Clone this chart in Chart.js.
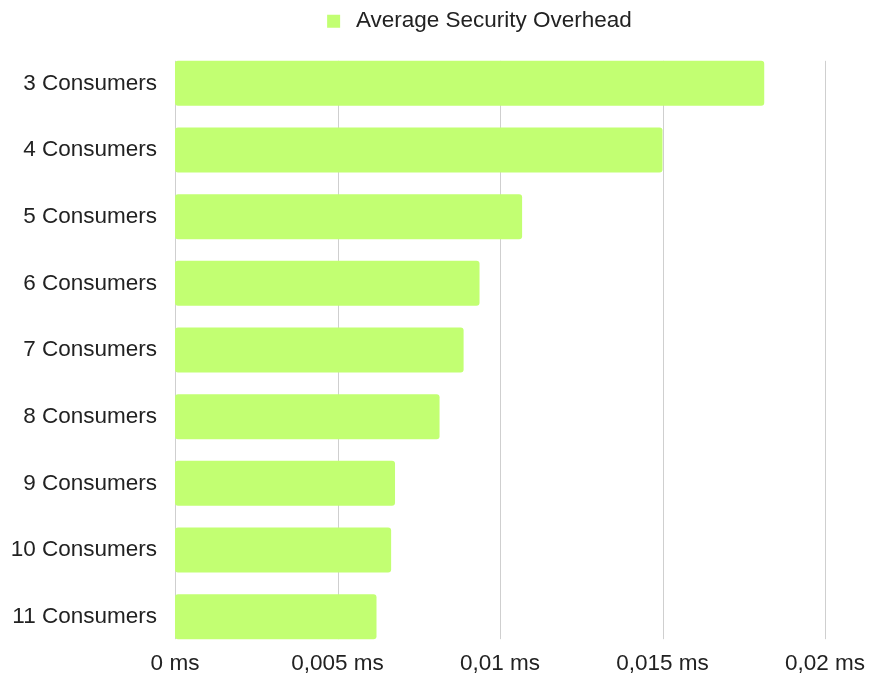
<!DOCTYPE html>
<html>
<head>
<meta charset="utf-8">
<script src="https://cdn.jsdelivr.net/npm/chart.js@4/dist/chart.umd.min.js"></script>
<style>
  html, body { margin: 0; padding: 0; background: #ffffff; }
  #wrap { width: 869px; height: 679px; position: relative; }
</style>
</head>
<body>
<div id="wrap"><canvas id="chart"></canvas></div>
<script>
// Average security overhead per consumer count (milliseconds)
const categories = [
  '3 Consumers', '4 Consumers', '5 Consumers', '6 Consumers', '7 Consumers',
  '8 Consumers', '9 Consumers', '10 Consumers', '11 Consumers'
];
const overheadMs = [0.01813, 0.0150, 0.01068, 0.00937, 0.00888, 0.00814, 0.00677, 0.00665, 0.00620];
const xTickLabels = ['0 ms', '0,005 ms', '0,01 ms', '0,015 ms', '0,02 ms'];
const seriesName = 'Average Security Overhead';

const FONT = "'Liberation Sans', Arial, sans-serif";
const FONT_SIZE = 22.5;
const BAR_COLOR = '#c2ff72';
const GRID_COLOR = '#cfcfcf';
const TEXT_COLOR = '#222222';

// Vertical grid lines that run only over the band of bars
const barBandGrid = {
  id: 'barBandGrid',
  beforeDraw(chart) {
    // centre the legend over the plotting area rather than the whole canvas
    if (chart.legend) chart.legend.left = 134;
  },
  beforeDatasetsDraw(chart) {
    const meta = chart.getDatasetMeta(0);
    if (!meta.data.length) return;
    const first = meta.data[0];
    const last = meta.data[meta.data.length - 1];
    const top = first.y - first.height / 2;
    const bottom = last.y + last.height / 2;
    const xs = chart.scales.x;
    const ctx = chart.ctx;
    ctx.save();
    ctx.strokeStyle = GRID_COLOR;
    ctx.lineWidth = 1;
    xs.ticks.forEach(t => {
      const px = Math.round(xs.getPixelForValue(t.value)) + 0.5;
      ctx.beginPath();
      ctx.moveTo(px, top);
      ctx.lineTo(px, bottom);
      ctx.stroke();
    });
    ctx.restore();
  }
};

new Chart(document.getElementById('chart'), {
  type: 'bar',
  data: {
    labels: categories,
    datasets: [{
      label: seriesName,
      data: overheadMs,
      backgroundColor: BAR_COLOR,
      borderWidth: 0,
      borderRadius: 3,
      borderSkipped: false,
      barPercentage: 0.675,
      categoryPercentage: 1.0
    }]
  },
  options: {
    indexAxis: 'y',
    responsive: true,
    maintainAspectRatio: false,
    animation: false,
    layout: { padding: { left: 0, right: 44, top: 2, bottom: 0 } },
    plugins: {
      legend: {
        display: true,
        position: 'top',
        labels: {
          boxWidth: 13,
          boxHeight: 13,
          padding: 8,
          color: TEXT_COLOR,
          font: { family: FONT, size: FONT_SIZE },
          generateLabels(chart) {
            const items = Chart.defaults.plugins.legend.labels.generateLabels(chart);
            items.forEach(it => { it.text = '\u2009' + it.text; it.lineWidth = 0; });
            return items;
          }
        }
      },
      tooltip: { enabled: false }
    },
    scales: {
      x: {
        type: 'linear',
        position: 'bottom',
        min: 0,
        max: 0.02,
        grid: { display: false, drawTicks: false },
        border: { display: false },
        ticks: {
          stepSize: 0.005,
          padding: 0,
          color: TEXT_COLOR,
          font: { family: FONT, size: FONT_SIZE },
          callback: (v, i) => xTickLabels[i]
        },
        afterFit: s => { s.height = 29; }
      },
      spacer: {
        type: 'linear',
        position: 'top',
        display: true,
        grid: { display: false },
        border: { display: false },
        ticks: { display: false },
        afterFit: s => { s.height = 7.5; }
      },
      y: {
        type: 'category',
        offset: true,
        grid: { display: false, drawTicks: false },
        border: { display: false },
        ticks: {
          padding: 18,
          color: TEXT_COLOR,
          font: { family: FONT, size: FONT_SIZE }
        },
        afterFit: s => {
          s.width = 175;
          s.paddingTop = 0;
          s.paddingBottom = 0;
        }
      }
    }
  },
  plugins: [barBandGrid]
});
</script>
</body>
</html>
